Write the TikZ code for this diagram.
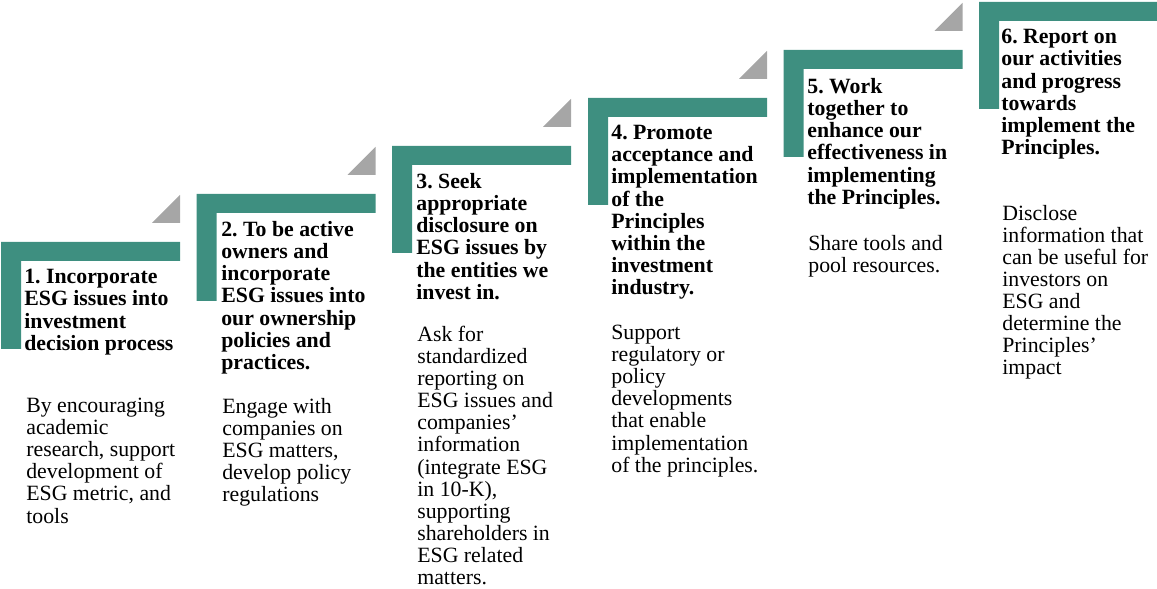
\documentclass[tikz,border=0pt]{standalone}
\usepackage{fontspec}
\setmainfont{Liberation Serif}
\frenchspacing
\definecolor{stepteal}{RGB}{62,143,128}
\definecolor{stepgrey}{RGB}{166,166,166}

\begin{document}
\begin{tikzpicture}[scale=1.0,
  stepbar/.style={fill=stepteal, draw=none},
  cornertri/.style={fill=stepgrey, draw=none},
  titletext/.style={anchor=north west, inner sep=0pt, align=left,
    font=\bfseries\fontsize{12.4}{12.6}\selectfont},
  bodytext/.style={anchor=north west, inner sep=0pt, align=left,
    font=\fontsize{12.4}{12.55}\selectfont}]
\useasboundingbox (0,0) rectangle (23.14,11.78);

% the six steps (L-shaped bars)
\fill[stepbar] (0.02,6.94) -- (3.60,6.94) -- (3.60,6.56) -- (0.42,6.56) -- (0.42,4.80) -- (0.02,4.80) -- cycle;
\fill[stepbar] (3.93,7.90) -- (7.51,7.90) -- (7.51,7.52) -- (4.33,7.52) -- (4.33,5.76) -- (3.93,5.76) -- cycle;
\fill[stepbar] (7.84,8.86) -- (11.42,8.86) -- (11.42,8.48) -- (8.24,8.48) -- (8.24,6.72) -- (7.84,6.72) -- cycle;
\fill[stepbar] (11.76,9.82) -- (15.34,9.82) -- (15.34,9.44) -- (12.16,9.44) -- (12.16,7.68) -- (11.76,7.68) -- cycle;
\fill[stepbar] (15.67,10.78) -- (19.25,10.78) -- (19.25,10.40) -- (16.07,10.40) -- (16.07,8.64) -- (15.67,8.64) -- cycle;
\fill[stepbar] (19.58,11.74) -- (23.16,11.74) -- (23.16,11.36) -- (19.98,11.36) -- (19.98,9.60) -- (19.58,9.60) -- cycle;

% grey corner triangles
\fill[cornertri] (3.60,7.32) -- (3.04,7.32) -- (3.60,7.88) -- cycle;
\fill[cornertri] (7.51,8.28) -- (6.95,8.28) -- (7.51,8.84) -- cycle;
\fill[cornertri] (11.42,9.24) -- (10.86,9.24) -- (11.42,9.80) -- cycle;
\fill[cornertri] (15.34,10.20) -- (14.78,10.20) -- (15.34,10.76) -- cycle;
\fill[cornertri] (19.25,11.16) -- (18.69,11.16) -- (19.25,11.72) -- cycle;

% headings
\node[titletext] (title1) at (0.48,6.40) {1. Incorporate\\ESG issues into\\investment\\decision process};
\node[titletext] (title2) at (4.42,7.36) {2. To be active\\owners and\\incorporate\\ESG issues into\\our ownership\\policies and\\practices.};
\node[titletext] (title3) at (8.32,8.32) {3. Seek\\appropriate\\disclosure on\\ESG issues by\\the entities we\\invest in.};
\node[titletext] (title4) at (12.22,9.28) {4. Promote\\acceptance and\\implementation\\of the\\Principles\\within the\\investment\\industry.};
\node[titletext] (title5) at (16.14,10.22) {5. Work\\together to\\enhance our\\effectiveness in\\implementing\\the Principles.};
\node[titletext] (title6) at (20.02,11.20) {6. Report on\\our activities\\and progress\\towards\\implement the\\Principles.};

% descriptions
\node[bodytext] (body1) at (0.52,3.82) {By encouraging\\academic\\research, support\\development of\\ESG metric, and\\tools};
\node[bodytext] (body2) at (4.44,3.82) {Engage with\\companies on\\ESG matters,\\develop policy\\regulations};
\node[bodytext] (body3) at (8.34,5.26) {Ask for\\standardized\\reporting on\\ESG issues and\\companies'\\information\\(integrate ESG\\in 10-K),\\supporting\\shareholders in\\ESG related\\matters.};
\node[bodytext] (body4) at (12.22,5.28) {Support\\regulatory or\\policy\\developments\\that enable\\implementation\\of the principles.};
\node[bodytext] (body5) at (16.16,7.08) {Share tools and\\pool resources.};
\node[bodytext] (body6) at (20.04,7.68) {Disclose\\information that\\can be useful for\\investors on\\ESG and\\determine the\\Principles'\\impact};
\end{tikzpicture}
\end{document}
